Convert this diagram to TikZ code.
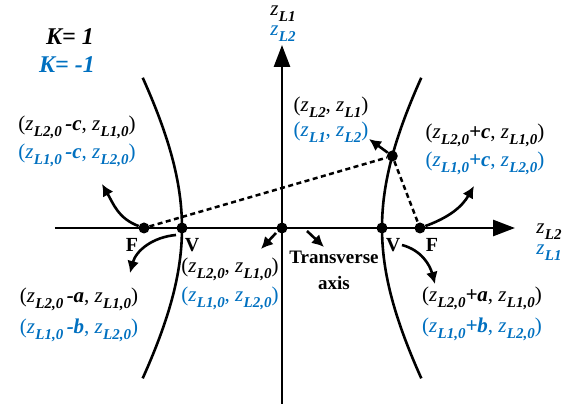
\documentclass[tikz,border=0pt]{standalone}
\usepackage{fontspec}
\setmainfont{Liberation Serif}
\usetikzlibrary{arrows.meta}
\definecolor{kblue}{RGB}{0,112,192}
\newcommand\zz[1]{\textit{z}\kern0.3pt\raisebox{-0.28em}{\fontsize{15}{16}\selectfont\bfseries\itshape #1}}
\newcommand\op[1]{\textbf{\textit{#1}}}
\begin{document}
\begin{tikzpicture}[x=1pt,y=1pt,
  lbl/.style={font=\fontsize{21}{24}\selectfont, inner sep=0pt, text=black},
  bl/.style={lbl, text=kblue},
  dot/.style={circle, fill=black, inner sep=0pt, minimum size=11pt},
  axisline/.style={line width=2.7pt, -{Triangle[length=22pt,width=16pt]}},
  hyper/.style={line width=2.6pt},
  smallarr/.style={line width=2.6pt, -{Latex[length=12pt,width=12pt]}},
  dashline/.style={line width=2.5pt, dash pattern=on 5pt off 3.5pt},
  FV/.style={font=\fontsize{20}{22}\selectfont\bfseries, inner sep=0pt},
  klbl/.style={font=\fontsize{24}{26}\selectfont\bfseries\itshape, inner sep=0pt}
]
\useasboundingbox (-282,-176) rectangle (302,228);

% axes
\coordinate (hl) at (-227,0);
\coordinate (hr) at (233,0);
\coordinate (vb) at (0,-176);
\coordinate (vt) at (0,183);
\draw[axisline] (hl) -- (hr);
\draw[axisline] (vb) -- (vt);

% hyperbola branches
\draw[hyper] plot[domain=-0.86:0.86, samples=60, variable=\t] ({100*cosh(\t)},{155*sinh(\t)});
\draw[hyper] plot[domain=-0.86:0.86, samples=60, variable=\t] ({-100*cosh(\t)},{155*sinh(\t)});

% points
\node[dot] (FL) at (-138,0) {};
\node[dot] (VL) at (-100,0) {};
\node[dot] (O) at (0,0) {};
\node[dot] (VR) at (100,0) {};
\node[dot] (FR) at (138,0) {};
\node[dot] (P) at (110.3,72) {};

% dashed lines
\draw[dashline] (FL) -- (P) -- (FR);

% arrows
\coordinate (aFL) at (-180,44);
\draw[smallarr] (FL) to[out=160,in=-60] (aFL);
\coordinate (aFR) at (192,42);
\draw[smallarr] (FR) to[out=20,in=240] (aFR);
\coordinate (sVL) at (-106,-7);
\coordinate (aVL) at (-152,-45);
\draw[smallarr] (sVL) to[out=185,in=75] (aVL);
\coordinate (sVR) at (120,-17);
\coordinate (aVR) at (153,-56);
\draw[smallarr] (sVR) to[out=-15,in=105] (aVR);
\coordinate (aP) at (87,89);
\draw[smallarr] (P) -- (aP);
\coordinate (sO1) at (-6,-5);
\coordinate (aO1) at (-21,-21);
\draw[smallarr] (sO1) -- (aO1);
\coordinate (sO2) at (25,-3);
\coordinate (aO2) at (42,-19);
\draw[smallarr] (sO2) -- (aO2);

% K labels
\node[klbl] (k1) at (-212,191) {K= 1};
\node[klbl, text=kblue] (k2) at (-215,163) {K= -1};

% axis labels
\node[lbl] (ay1) at (1,214) {\zz{L1}};
\node[bl] (ay2) at (1,194) {\zz{L2}};
\node[lbl] (ax1) at (267,-4) {\zz{L2}};
\node[bl] (ax2) at (267,-25) {\zz{L1}};

% F and V labels
\node[FV] (tFL) at (-150,-17) {F};
\node[FV] (tVL) at (-90,-17) {V};
\node[FV] (tVR) at (111,-17) {V};
\node[FV] (tFR) at (150,-17) {F};

% coordinate labels
\node[lbl] (l1a) at (-205,101) {(\zz{L2,0}\,\op{-c}, \zz{L1,0})};
\node[bl]  (l1b) at (-205,73) {(\zz{L1,0}\,\op{-c}, \zz{L2,0})};
\node[lbl] (l2a) at (49,121) {(\zz{L2}, \zz{L1})};
\node[bl]  (l2b) at (49,96) {(\zz{L1}, \zz{L2})};
\node[lbl] (l3a) at (203,93) {(\zz{L2,0}\op{+c}, \zz{L1,0})};
\node[bl]  (l3b) at (203,65) {(\zz{L1,0}\op{+c}, \zz{L2,0})};
\node[lbl] (l4a) at (-203,-71) {(\zz{L2,0}\,\op{-a}, \zz{L1,0})};
\node[bl]  (l4b) at (-203,-102) {(\zz{L1,0}\,\op{-b}, \zz{L2,0})};
\node[lbl] (l5a) at (-52,-41) {(\zz{L2,0}, \zz{L1,0})};
\node[bl]  (l5b) at (-52,-70) {(\zz{L1,0}, \zz{L2,0})};
\node[lbl] (l6a) at (200,-70) {(\zz{L2,0}\op{+a}, \zz{L1,0})};
\node[bl]  (l6b) at (200,-101) {(\zz{L1,0}\op{+b}, \zz{L2,0})};

% transverse axis
\node[FV, font=\fontsize{19}{26}\selectfont\bfseries, align=center] (ta) at (52,-42) {Transverse\\axis};
\end{tikzpicture}
\end{document}
